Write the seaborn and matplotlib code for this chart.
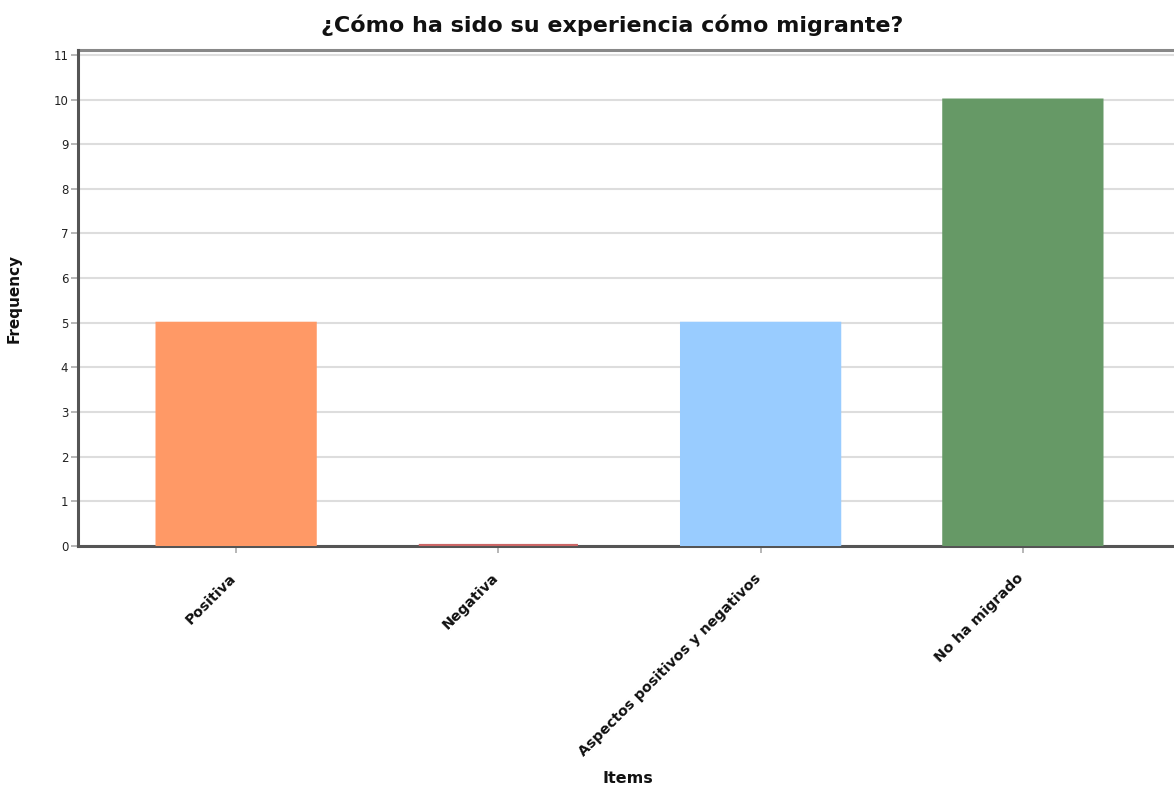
import matplotlib
matplotlib.use("Agg")
import matplotlib.pyplot as plt
import matplotlib.transforms as mtransforms
import seaborn as sns
import pandas as pd

categories = ["Positiva", "Negativa", "Aspectos positivos y negativos", "No ha migrado"]
frequencies = [5, 0, 5, 10]
bar_colors = ["#FF9966", "#CC6666", "#99CCFF", "#669966"]

sns.set_theme(style="white")
plt.rcParams["font.family"] = ["DejaVu Sans"]

df = pd.DataFrame({"Items": categories, "Frequency": frequencies})

fig = plt.figure(figsize=(11.74, 7.85), dpi=100)
ax = fig.add_axes([78 / 1174, 1 - 546 / 785, (1181 - 78) / 1174, (546 - 50) / 785])

sns.barplot(data=df, x="Items", y="Frequency", hue="Items", palette=bar_colors,
            width=0.607, saturation=1, legend=False, ax=ax, zorder=3)
for patch, c in zip(ax.patches, bar_colors):
    patch.set_edgecolor(c)
    patch.set_snap(False)
    # empty bars keep a visible outline on top of the baseline
    patch.set_linewidth(3.0 if patch.get_height() == 0 else 1.5)
    patch.set_zorder(5)

ax.set_ylim(0, 11.11)
ax.set_xlim(-0.603, 3.603)
ax.set_yticks(range(0, 12))
ax.yaxis.grid(True, color="#DDDDDD", linewidth=1.5, zorder=0)
ax.set_axisbelow(True)

for side in ["left", "bottom"]:
    ax.spines[side].set_color("#555555")
    ax.spines[side].set_linewidth(2.2)
    ax.spines[side].set_zorder(4)
ax.spines["top"].set_color("#888888")
ax.spines["top"].set_linewidth(2.2)
ax.spines["right"].set_visible(False)

ax.tick_params(axis="y", which="both", direction="out", length=5, width=1.2,
               color="#AAAAAA", labelsize=8.5, labelcolor="#222222", left=True, pad=2)
ax.tick_params(axis="x", direction="out", length=5, width=1.2, color="#AAAAAA",
               bottom=True, labelsize=10.4, pad=13)
shift = mtransforms.ScaledTranslation(-7 / 100, 0, fig.dpi_scale_trans)
for lab in ax.get_xticklabels():
    lab.set_rotation(45)
    lab.set_ha("right")
    lab.set_rotation_mode("anchor")
    lab.set_fontweight("bold")
    lab.set_color("#111111")
    lab.set_transform(lab.get_transform() + shift)

ax.set_xlabel("Items", fontsize=11.5, fontweight="bold", labelpad=0, color="#111111")
ax.xaxis.set_label_coords((628 - 78) / (1181 - 78), -(771 - 546) / (546 - 50))
ax.set_ylabel("Frequency", fontsize=11, fontweight="bold", color="#111111")
ax.yaxis.set_label_coords(-(78 - 22) / (1181 - 78), 0.5)

fig.text(612 / 1174, 1 - 25 / 785, "¿Cómo ha sido su experiencia cómo migrante?",
         ha="center", va="center", fontsize=16, fontweight="bold", color="#111111")

fig.savefig("out.png", dpi=100)
